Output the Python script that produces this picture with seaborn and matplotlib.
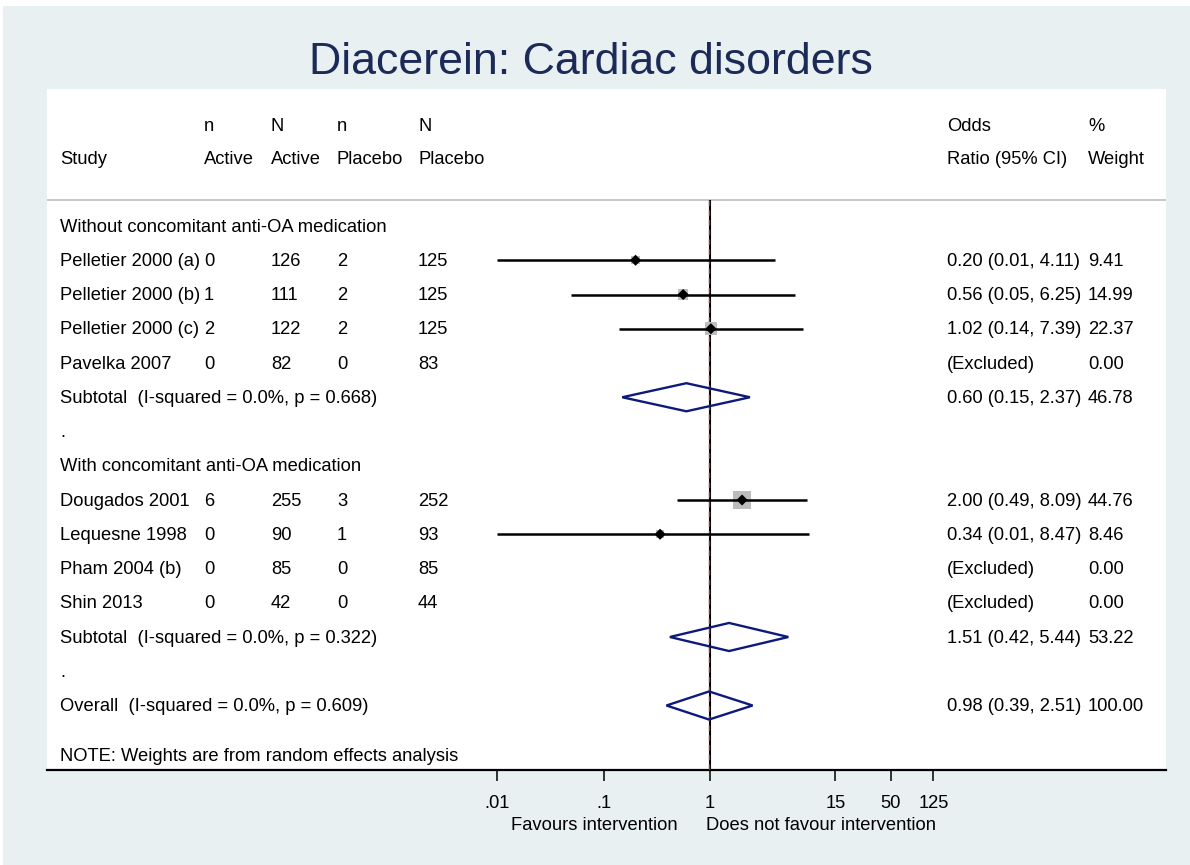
import numpy as np
import pandas as pd
import matplotlib
matplotlib.use("Agg")
import matplotlib.pyplot as plt
import seaborn as sns
from matplotlib.patches import Rectangle, Polygon

# Dados
studies = ["Pelletier 2000 (a)", "Pelletier 2000 (b)", "Pelletier 2000 (c)", "Pavelka 2007",
           "Dougados 2001", "Lequesne 1998", "Pham 2004 (b)", "Shin 2013"]
group = [1, 1, 1, 1, 2, 2, 2, 2]
n_active = [0, 1, 2, 0, 6, 0, 0, 0]
N_active = [126, 111, 122, 82, 255, 90, 85, 42]
n_placebo = [2, 2, 2, 0, 3, 1, 0, 0]
N_placebo = [125, 125, 125, 83, 252, 93, 85, 44]
odds = [0.20, 0.56, 1.02, np.nan, 2.00, 0.34, np.nan, np.nan]
ci_lo = [0.01, 0.05, 0.14, np.nan, 0.49, 0.01, np.nan, np.nan]
ci_hi = [4.11, 6.25, 7.39, np.nan, 8.09, 8.47, np.nan, np.nan]
weight = [9.41, 14.99, 22.37, 0.00, 44.76, 8.46, 0.00, 0.00]

group_names = ["Without concomitant anti-OA medication", "With concomitant anti-OA medication"]
sub_or = [0.60, 1.51]
sub_lo = [0.15, 0.42]
sub_hi = [2.37, 5.44]
sub_w = [46.78, 53.22]
sub_i2 = ["0.0%", "0.0%"]
sub_p = ["0.668", "0.322"]

overall = (0.98, 0.39, 2.51, "100.00", "0.0%", "0.609")

xticks = [0.01, 0.1, 1, 15, 50, 125]
xtick_labels = [".01", ".1", "1", "15", "50", "125"]

sns.set_style("white")
plt.rcParams['font.family'] = ['Liberation Sans', 'DejaVu Sans']
FS = 13.2

fig = plt.figure(figsize=(11.9, 8.65), dpi=100)
fig.patch.set_facecolor("white")
fig.add_artist(Rectangle((3 / 1190, 0), 1, 859 / 865, transform=fig.transFigure,
                         facecolor="#e8f0f2", edgecolor="none", zorder=-10))
fig.text(591 / 1190, 1 - 62 / 865, "Diacerein: Cardiac disorders", ha="center", va="center",
         fontsize=32.2, color="#1c2a58")

ax = fig.add_axes([47 / 1190, 95 / 865, 1119 / 1190, 681 / 865])
ax.set_facecolor("white")
ax.set_xscale("log")
ax.set_xlim(10 ** (-663 / 106.5), 10 ** (456 / 106.5))
ax.set_ylim((770 - 226) / 34.25, (89 - 226) / 34.25)

# montar linhas
df = pd.DataFrame({"study": studies, "group": group, "na": n_active, "Na": N_active,
                   "np": n_placebo, "Np": N_placebo, "or": odds, "lo": ci_lo,
                   "hi": ci_hi, "w": weight})
row = 0
df["row"] = 0.0
sub_rows = []
head_rows = []
dot_rows = []
for g in (1, 2):
    head_rows.append(row)
    row += 1
    for i in df.index[df["group"] == g]:
        df.loc[i, "row"] = row
        row += 1
    sub_rows.append(row)
    row += 1
    dot_rows.append(row)
    row += 1
overall_row = row
note_row = overall_row + 50 / 34.25

tr = ax.get_yaxis_transform()
cols = [(60 - 47) / 1119, (204 - 47) / 1119, (271 - 47) / 1119, (337 - 47) / 1119,
        (418 - 47) / 1119, (947 - 47) / 1119, (1088 - 47) / 1119]

def txt(c, y, s):
    ax.text(cols[c], y + 0.03, s, transform=tr, ha="left", va="center", fontsize=FS, color="black")

# cabecalho
h1 = (125 - 226) / 34.25
h2 = (158 - 226) / 34.25
for c, s in zip(range(7), ["", "n", "N", "n", "N", "Odds", "%"]):
    txt(c, h1, s)
for c, s in zip(range(7), ["Study", "Active", "Active", "Placebo", "Placebo", "Ratio (95% CI)", "Weight"]):
    txt(c, h2, s)
hline = (200 - 226) / 34.25
ax.axhline(hline, color="#c4c4c4", lw=1.3)

# linha do nulo e do efeito global
ax.vlines(1, hline, ax.get_ylim()[0], color="black", lw=1.5, zorder=2)
ax.vlines(overall[0], hline, ax.get_ylim()[0], color="#8e3b3b", lw=1, linestyles=(0, (4, 3)), zorder=3)

for _, r in df.iterrows():
    txt(0, r["row"], r["study"])
    txt(1, r["row"], str(r["na"]))
    txt(2, r["row"], str(r["Na"]))
    txt(3, r["row"], str(r["np"]))
    txt(4, r["row"], str(r["Np"]))
    if np.isnan(r["or"]):
        txt(5, r["row"], "(Excluded)")
    else:
        txt(5, r["row"], f"{r['or']:.2f} ({r['lo']:.2f}, {r['hi']:.2f})")
    txt(6, r["row"], f"{r['w']:.2f}")

est = df.dropna(subset=["or"])
ax.hlines(est["row"], est["lo"], est["hi"], color="black", lw=1.8, zorder=4)
sns.scatterplot(data=est, x="or", y="row", size="w", sizes=(0, 380), size_norm=(0, 100),
                marker="s", color="#bdbdbd", edgecolor="none", legend=False, ax=ax, zorder=3)
sns.scatterplot(data=est, x="or", y="row", marker="D", s=32, color="black", edgecolor="none",
                legend=False, ax=ax, zorder=5)

def diamond(y, m, lo, hi):
    ax.add_patch(Polygon([(lo, y), (m, y - 0.41), (hi, y), (m, y + 0.41)], closed=True,
                         fill=False, edgecolor="#0d1a7a", lw=1.7, zorder=5))

for k in range(2):
    txt(0, head_rows[k], group_names[k])
    txt(0, sub_rows[k], f"Subtotal  (I-squared = {sub_i2[k]}, p = {sub_p[k]})")
    txt(5, sub_rows[k], f"{sub_or[k]:.2f} ({sub_lo[k]:.2f}, {sub_hi[k]:.2f})")
    txt(6, sub_rows[k], f"{sub_w[k]:.2f}")
    txt(0, dot_rows[k], ".")
    diamond(sub_rows[k], sub_or[k], sub_lo[k], sub_hi[k])

txt(0, overall_row, f"Overall  (I-squared = {overall[4]}, p = {overall[5]})")
txt(5, overall_row, f"{overall[0]:.2f} ({overall[1]:.2f}, {overall[2]:.2f})")
txt(6, overall_row, overall[3])
diamond(overall_row, overall[0], overall[1], overall[2])
txt(0, note_row, "NOTE: Weights are from random effects analysis")

# eixo x
for s in ["top", "left", "right"]:
    ax.spines[s].set_visible(False)
ax.spines["bottom"].set_color("black")
ax.spines["bottom"].set_linewidth(1.6)
ax.set_yticks([])
ax.set_xticks(xticks)
ax.set_xticklabels(xtick_labels)
ax.xaxis.set_minor_locator(matplotlib.ticker.NullLocator())
ax.tick_params(axis="x", direction="out", length=8, width=1.1, pad=10, labelsize=FS,
               bottom=True, color="black", labelcolor="black")
ax.set_xlabel("")
ax.set_ylabel("")

ax.text(678 / 1190, 1 - 825 / 865, "Favours intervention", transform=fig.transFigure,
        ha="right", va="center", fontsize=FS, color="black")
ax.text(706 / 1190, 1 - 825 / 865, "Does not favour intervention", transform=fig.transFigure,
        ha="left", va="center", fontsize=FS, color="black")

fig.savefig("out.png", dpi=100, facecolor=fig.get_facecolor())
